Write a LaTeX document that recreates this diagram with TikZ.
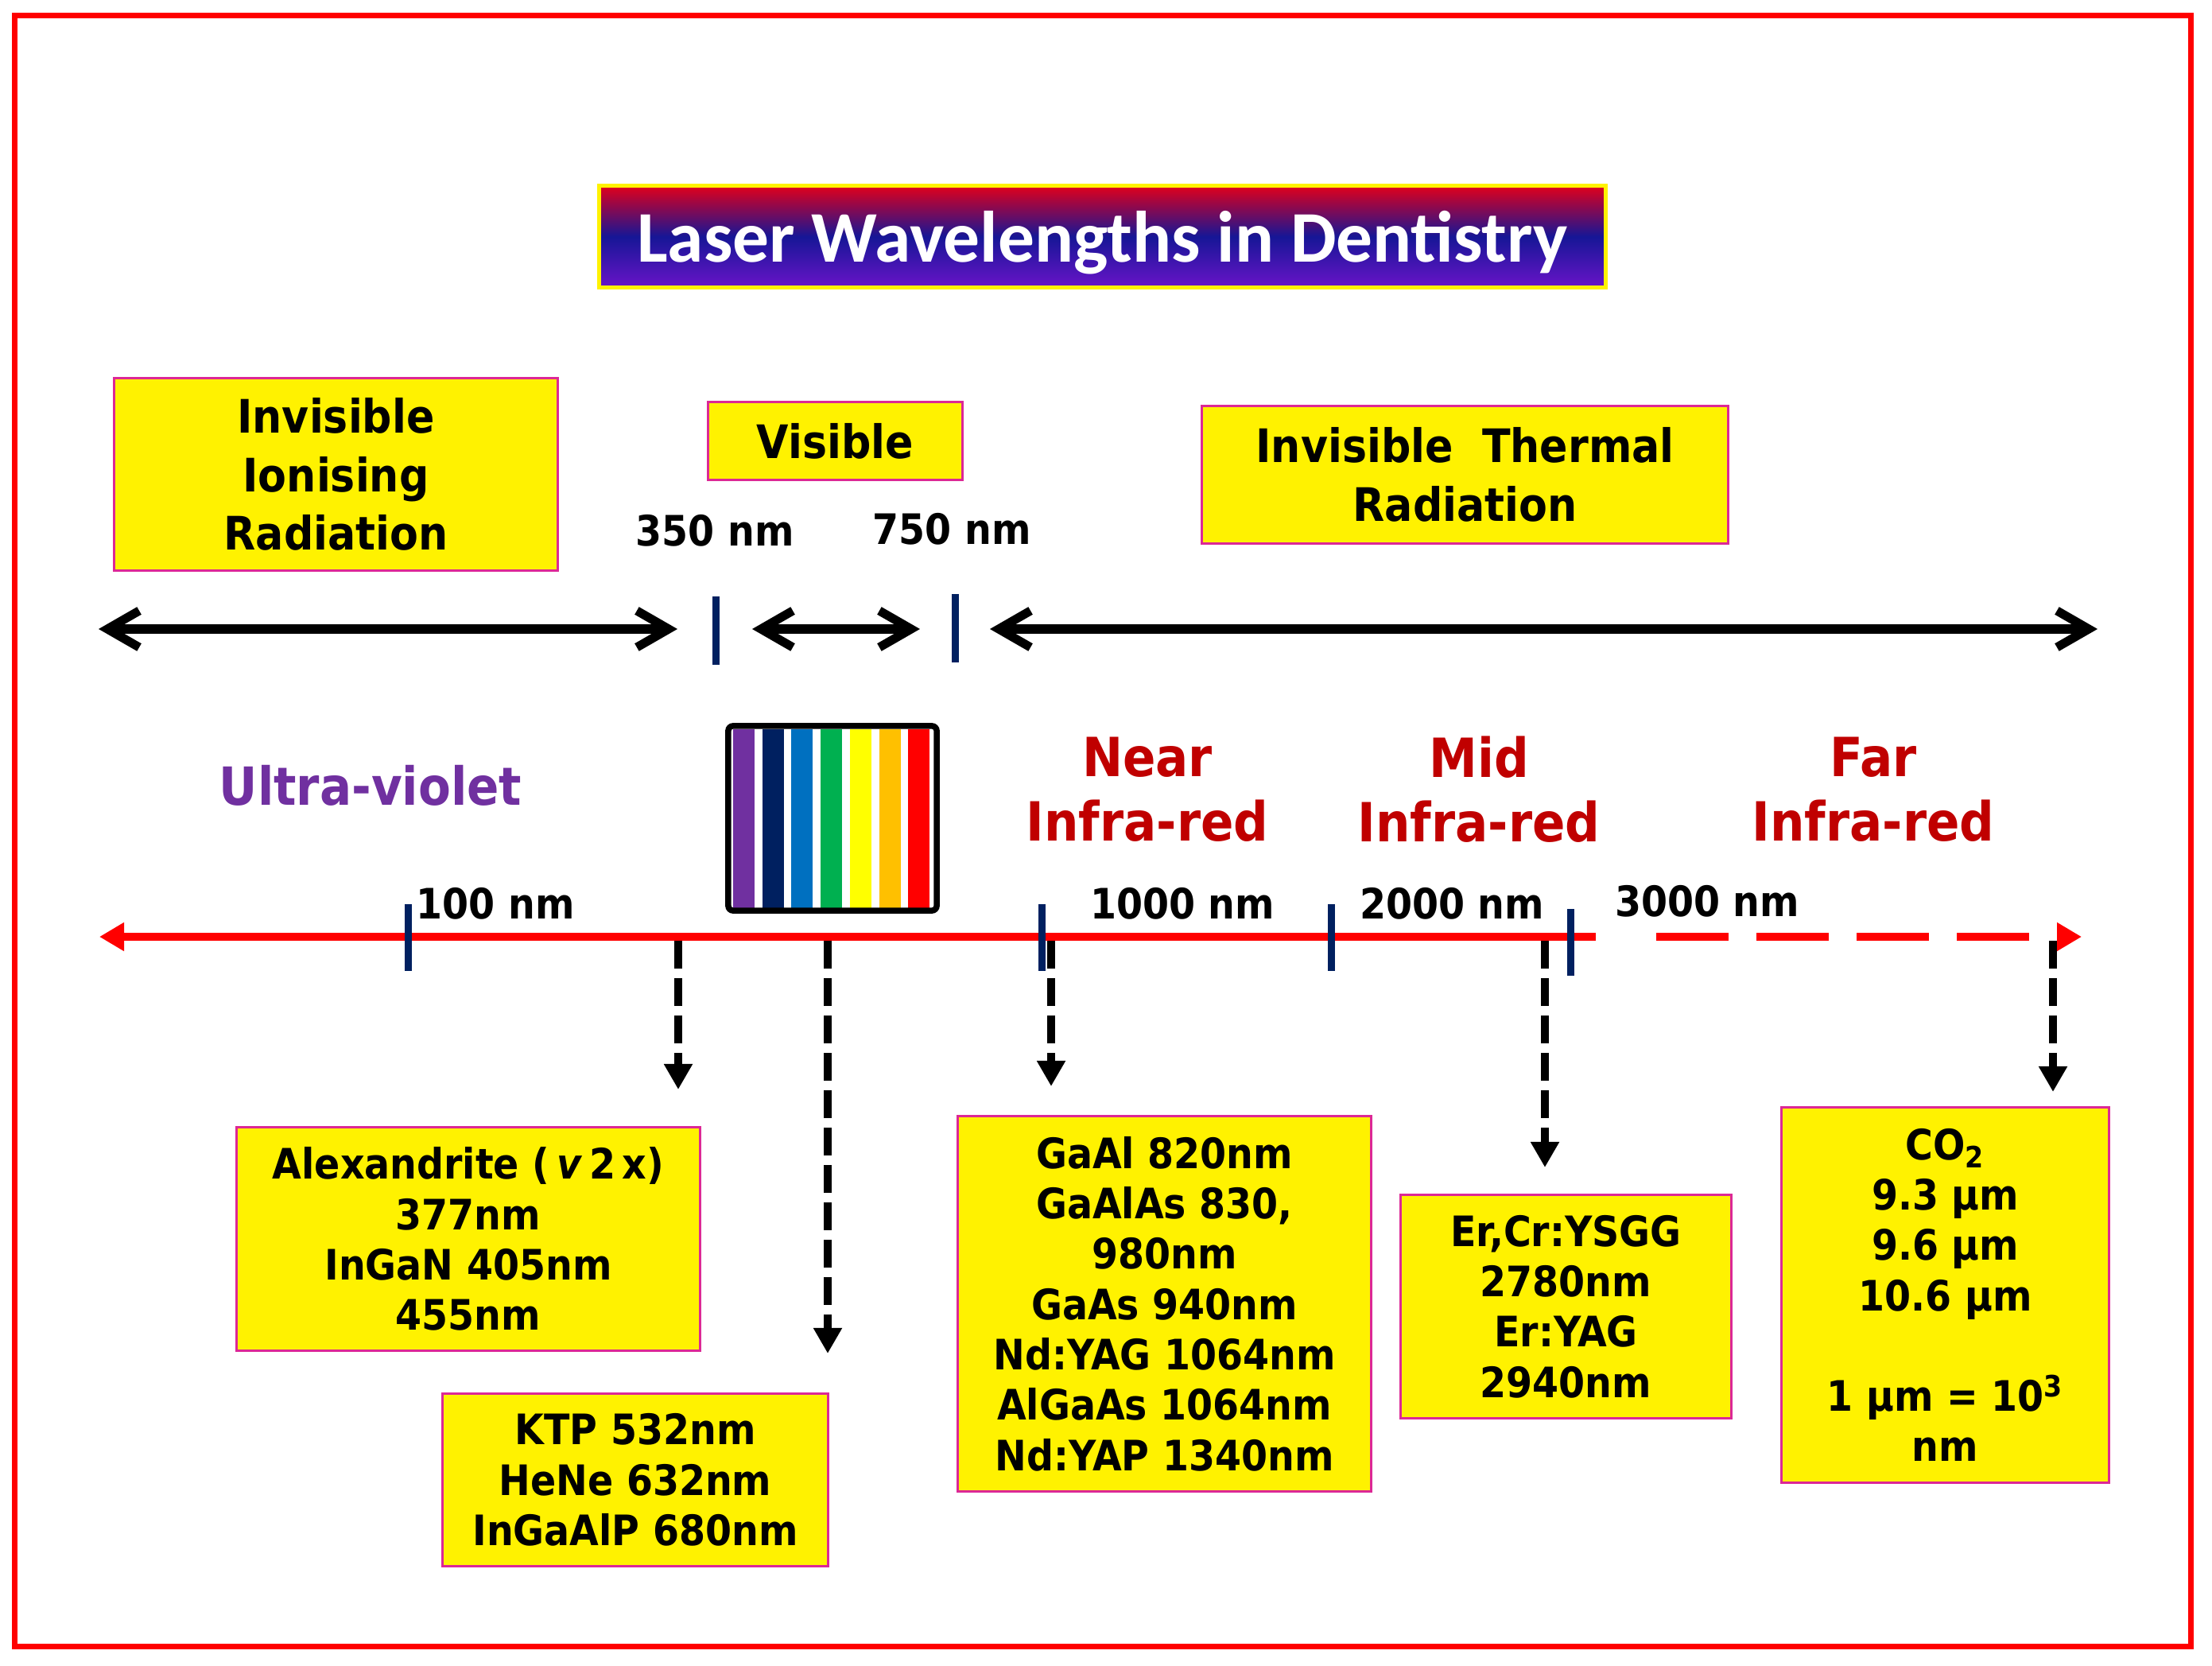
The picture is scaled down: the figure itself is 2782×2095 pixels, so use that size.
\documentclass[tikz,border=0pt]{standalone}
\usepackage{fontspec}
\setmainfont{DejaVu Sans}[FakeStretch=0.9]
\newfontfamily\titlefont{Carlito}
\usetikzlibrary{arrows.meta}
\definecolor{navy}{RGB}{0,32,96}
\definecolor{uvpurple}{RGB}{112,48,160}
\definecolor{irred}{RGB}{192,0,0}
\definecolor{boxedge}{RGB}{220,40,150}
\definecolor{titred}{RGB}{226,0,26}
\definecolor{titblue}{RGB}{22,22,150}
\definecolor{titpurple}{RGB}{105,20,200}
\definecolor{spV}{HTML}{7030A0}
\definecolor{spN}{HTML}{002060}
\definecolor{spB}{HTML}{0070C0}
\definecolor{spG}{HTML}{00B050}
\definecolor{spY}{HTML}{FFFF00}
\definecolor{spO}{HTML}{FFC000}
\definecolor{spR}{HTML}{FF0000}
\newcommand{\setfs}[2]{\fontsize{#1}{#2}\selectfont}

\begin{document}
\begin{tikzpicture}[x=0.01cm, y=-0.01cm,
	jbox/.style={draw=boxedge, line width=0.3mm, fill=yellow, align=center, inner sep=0pt, font=\bfseries\setfs{15pt}{18pt}},
	topbox/.style={jbox, font=\bfseries\setfs{16.5pt}{21pt}},
	nmlab/.style={font=\bfseries\setfs{15pt}{18pt}},
	irlab/.style={text=irred, align=center, font=\bfseries\setfs{19.3pt}{23pt}},
	spanarrow/.style={{Straight Barb[length=4mm,width=4.6mm]}-{Straight Barb[length=4mm,width=4.6mm]}, line width=1.1mm},
	navytick/.style={navy, line width=0.9mm},
	laserarrow/.style={-{Triangle[length=3.2mm,width=3.4mm]}, line width=1mm, dash pattern=on 3.5mm off 1.2mm}]
	\useasboundingbox (0,0) rectangle (2782,2095);
	% Cadre
	\draw[red, line width=0.7mm] (18.5,19.5) rectangle (2755.5,2070.5);
	
	% Titre
	\node[draw=yellow, line width=0.5mm, top color=titred, bottom color=titpurple, middle color=titblue, minimum width=12.65cm, minimum height=1.28cm, text depth=0pt, text=white, font=\titlefont\bfseries\setfs{26pt}{30pt}] (title) at (1386.5,297.5) {Laser Wavelengths in Dentistry};
	
	% Zones du haut
	\node[topbox, minimum width=5.58cm, minimum height=2.42cm] (ionbox) at (422.5,596.5) {Invisible\\Ionising\\Radiation};
	\node[topbox, minimum width=3.2cm, minimum height=0.98cm] (visbox) at (1050.5,554.5) {Visible};
	\node[topbox, minimum width=6.62cm, minimum height=1.73cm] (thermbox) at (1842.5,597) {Invisible~~Thermal\\Radiation};
	\node[nmlab] (l350) at (899,667) {350 nm};
	\node[nmlab] (l750) at (1197,665) {750 nm};
	
	% Flèches doubles
	\coordinate (ionA) at (124,791);
	\coordinate (ionB) at (852,791);
	\coordinate (visA) at (946,791);
	\coordinate (visB) at (1157,791);
	\coordinate (thA) at (1245,791);
	\coordinate (thB) at (2638,791);
	\draw[spanarrow] (ionA) -- (ionB);
	\draw[spanarrow] (visA) -- (visB);
	\draw[spanarrow] (thA) -- (thB);
	\draw[navytick] (900,750) -- ++(0,86);
	\draw[navytick] (1201,747) -- ++(0,86);
	
	% Spectre visible
	\foreach \c [count=\i from 0] in {spV,spN,spB,spG,spY,spO,spR}
		\fill[\c] (922+36.7*\i,917) rectangle ++(27,225);
	\node[draw, line width=0.75mm, rounded corners=0.6mm, minimum width=2.62cm, minimum height=2.32cm] (spec) at (1047,1029) {};
	
	% Domaines
	\node[text=uvpurple, font=\bfseries\setfs{18.8pt}{22pt}] (uv) at (466,988) {Ultra-violet};
	\node[irlab] (nir) at (1443,993) {Near\\Infra-red};
	\node[irlab] (mir) at (1860,993) {Mid\\Infra-red};
	\node[irlab] (fir) at (2356,993) {Far\\Infra-red};
	
	% Axe rouge
	\coordinate (axL) at (125,1178);
	\coordinate (axM) at (2007,1178);
	\coordinate (axD) at (2083,1178);
	\coordinate (axR) at (2618,1178);
	\draw[red, line width=1.05mm, {Triangle[length=3.1mm,width=3.4mm]}-] (axL) -- (axM);
	\draw[red, line width=1.05mm, dash pattern=on 9.1mm off 3.5mm, -{Triangle[length=3.1mm,width=3.4mm]}] (axD) -- (axR);
	\foreach \x/\y in {513/1137, 1310/1137, 1674/1137, 1975/1143}
		\draw[navytick] (\x,\y) -- ++(0,84);
	\node[nmlab] (l100) at (623,1136) {100 nm};
	\node[nmlab] (l1000) at (1487,1136) {1000 nm};
	\node[nmlab] (l2000) at (1826,1136) {2000 nm};
	\node[nmlab] (l3000) at (2147,1133) {3000 nm};
	
	% Flèches pointillées
	\foreach \x/\e [count=\i] in {853/1370, 1041/1702, 1322/1366, 1943/1468, 2582/1373} {
		\coordinate (top\i) at (\x,1183);
		\coordinate (tip\i) at (\x,\e);
		\draw[laserarrow] (top\i) -- (tip\i);
	}
	
	% Lasers
	\node[jbox, minimum width=5.83cm, minimum height=2.81cm] (alex) at (589,1558) {Alexandrite (\,\textit{v}\,2\,x)\\377nm\\InGaN 405nm\\455nm};
	\node[jbox, minimum width=4.85cm, minimum height=2.17cm] (ktp) at (799,1861) {KTP 532nm\\HeNe 632nm\\InGaAlP 680nm};
	\node[jbox, minimum width=5.2cm, minimum height=4.72cm] (gaal) at (1464.5,1639.5) {GaAl 820nm\\GaAlAs 830,\\980nm\\GaAs 940nm\\Nd:YAG 1064nm\\AlGaAs 1064nm\\Nd:YAP 1340nm};
	\node[jbox, minimum width=4.16cm, minimum height=2.81cm] (er) at (1969.5,1643) {Er,Cr:YSGG\\2780nm\\Er:YAG\\2940nm};
	\node[jbox, minimum width=4.12cm, minimum height=4.72cm] (co2) at (2446.5,1628.5) {CO\textsubscript{2}\\9.3 µm\\9.6 µm\\10.6 µm\\[18pt]1 µm = 10\textsuperscript{3}\\nm};
\end{tikzpicture}
\end{document}
